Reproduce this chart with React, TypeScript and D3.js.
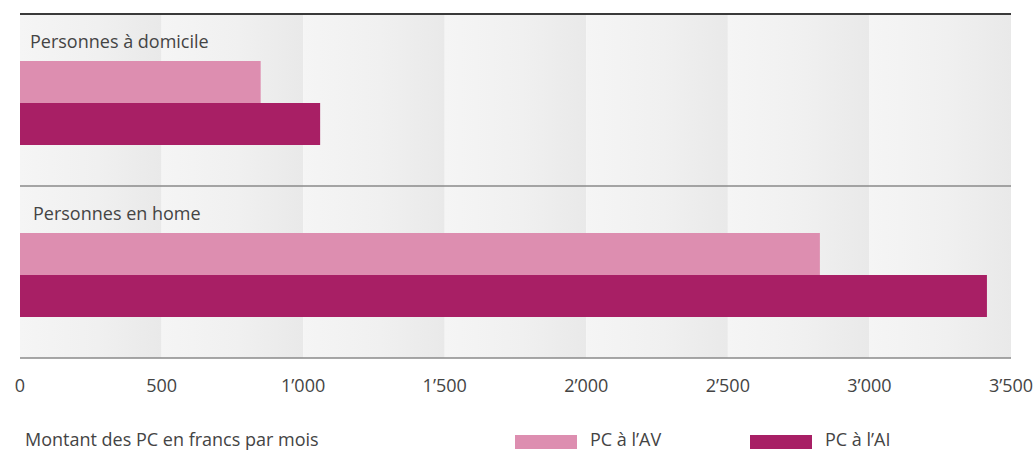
import React from "react";
import * as d3 from "d3";

// Groups, series and monthly amounts (francs)
const groups = ["Personnes à domicile", "Personnes en home"];
const series = ["PC à l’AV", "PC à l’AI"];
const valuesAV = [850, 2825];
const valuesAI = [1060, 3415];
const tickValues = [0, 500, 1000, 1500, 2000, 2500, 3000, 3500];
const tickLabels = ["0", "500", "1’000", "1’500", "2’000", "2’500", "3’000", "3’500"];
const axisTitle = "Montant des PC en francs par mois";

const colors = ["#dd8eb0", "#a81f65"];
const FONT = "'Open Sans', 'DejaVu Sans', sans-serif";

const W = 1035;
const H = 451;

export default function App() {
  const x = d3.scaleLinear().domain([0, 3500]).range([20, 1011]);
  const y = d3.scaleBand<string>().domain(groups).range([14, 358]);
  const sub = d3.scaleBand<string>().domain(series).range([47, 131]);
  const seriesValues = [valuesAV, valuesAI];

  const bands = d3.pairs(tickValues);

  return (
    <svg
      width={W}
      height={H}
      style={{ position: "absolute", left: 0, top: 0, background: "#fff" }}
      fontFamily={FONT}
    >
      <defs>
        <linearGradient id="band" x1="0" x2="1" y1="0" y2="0">
          <stop offset="0" stopColor="#f5f5f5" />
          <stop offset="0.55" stopColor="#f0f0f0" />
          <stop offset="1" stopColor="#e9e9e9" />
        </linearGradient>
      </defs>

      {/* shaded background stripes, one per 500 francs */}
      {bands.map(([a, b], i) => (
        <rect
          key={i}
          x={x(a)}
          y={y.range()[0]}
          width={x(b) - x(a)}
          height={y.range()[1] - y.range()[0]}
          fill="url(#band)"
        />
      ))}

      {/* group labels and bars */}
      {groups.map((g, gi) => {
        const top = y(g)!;
        return (
          <g key={g}>
            <text x={gi === 0 ? 30 : 33} y={top + 34} fontSize={18} fill="#444">
              {g}
            </text>
            {series.map((s, si) => (
              <rect
                key={s}
                x={x(0)}
                y={top + sub(s)!}
                width={x(seriesValues[si][gi]) - x(0)}
                height={sub.bandwidth()}
                fill={colors[si]}
              />
            ))}
          </g>
        );
      })}

      {/* horizontal separators */}
      <line x1={x(0)} x2={x(3500)} y1={14} y2={14} stroke="#3a3a3a" strokeWidth={2} />
      <line
        x1={x(0)}
        x2={x(3500)}
        y1={y(groups[1])!}
        y2={y(groups[1])!}
        stroke="#8a8a8a"
        strokeWidth={1.5}
      />
      <line x1={x(0)} x2={x(3500)} y1={358} y2={358} stroke="#8a8a8a" strokeWidth={1.5} />

      {/* axis tick labels */}
      {tickValues.map((t, i) => (
        <text
          key={t}
          x={x(t)}
          y={392}
          textAnchor="middle"
          fontSize={18}
          fill="#444"
        >
          {tickLabels[i]}
        </text>
      ))}

      {/* axis title */}
      <text x={25} y={446} fontSize={18} fill="#444">
        {axisTitle}
      </text>

      {/* legend */}
      {series.map((s, si) => {
        const lx = si === 0 ? 515 : 750;
        return (
          <g key={s}>
            <rect x={lx} y={435} width={62} height={14} fill={colors[si]} />
            <text x={lx + 75} y={446} fontSize={18} fill="#444">
              {s}
            </text>
          </g>
        );
      })}
    </svg>
  );
}
